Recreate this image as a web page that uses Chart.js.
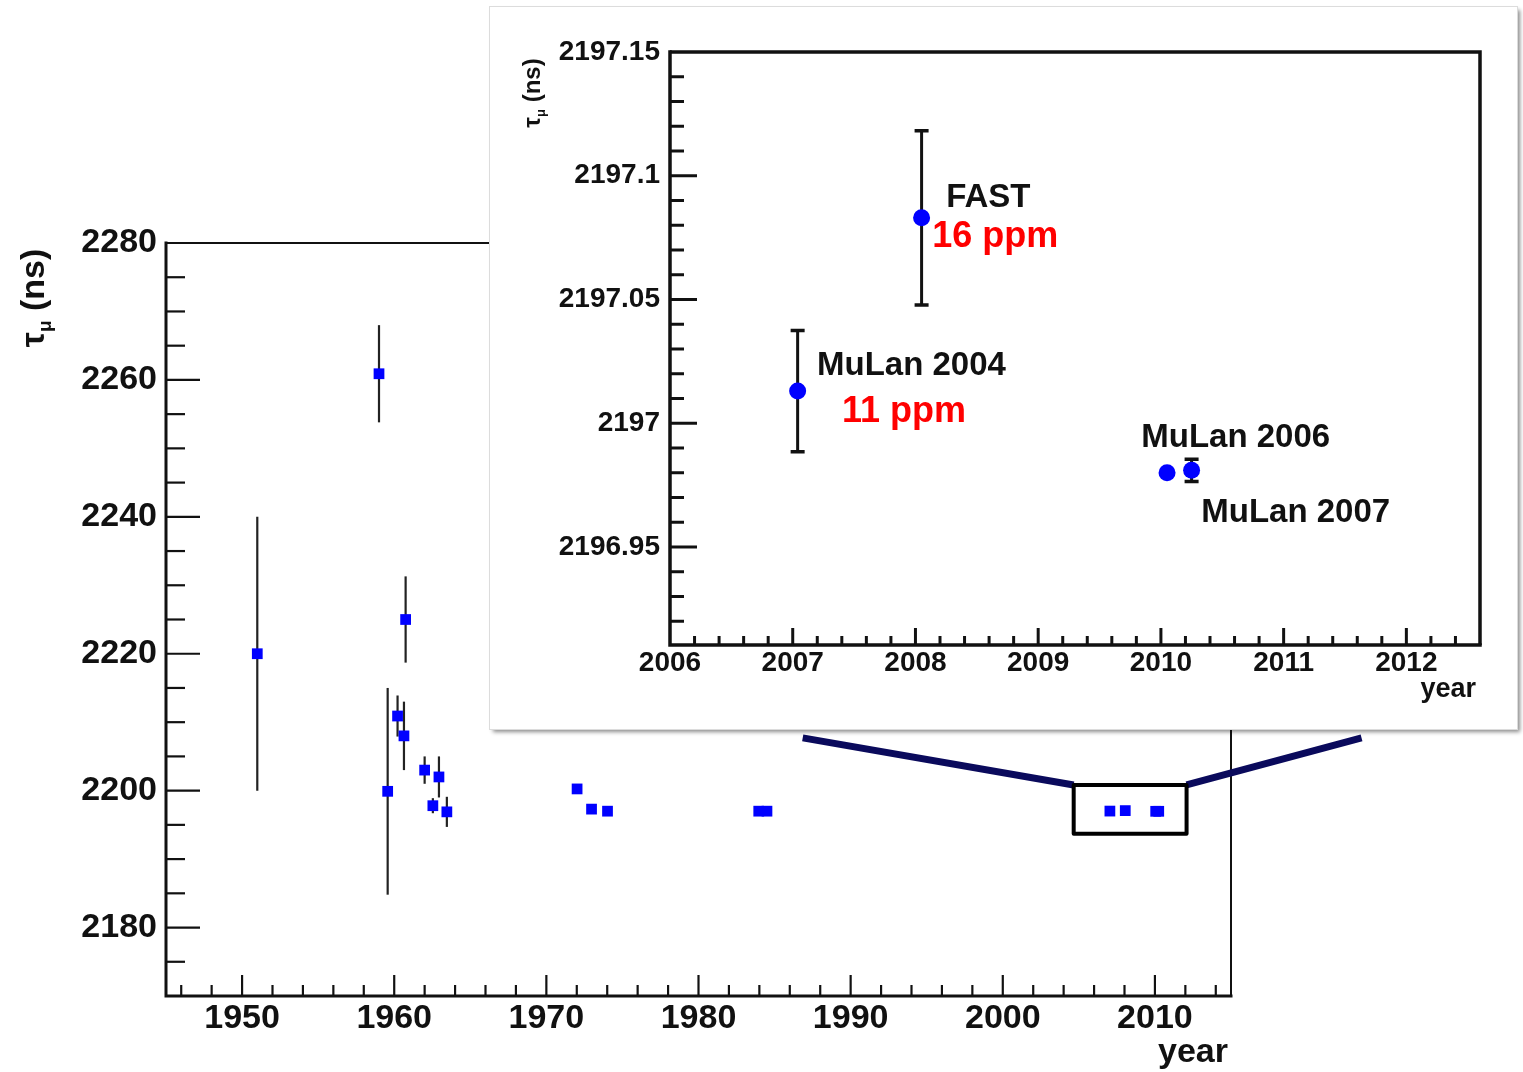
<!DOCTYPE html>
<html><head><meta charset="utf-8">
<script src="https://cdn.jsdelivr.net/npm/chart.js@4/dist/chart.umd.min.js"></script>
<style>
html,body{margin:0;padding:0;background:#fff;}
#wrap{position:relative;width:1523px;height:1072px;overflow:hidden;background:#fff;}
#main{position:absolute;left:0;top:0;}
#panel{position:absolute;left:490px;top:7px;width:1027px;height:722px;background:#fff;
  box-shadow:0 0 0 1px #dcdcdc, 3px 3px 4px rgba(0,0,0,0.45);}
#inset{position:absolute;left:0;top:0;}
</style></head>
<body>
<div id="wrap">
  <canvas id="main" width="1523" height="1072"></canvas>
  <div id="panel"><canvas id="inset" width="1027" height="722"></canvas></div>
</div>
<script>
const FONT = "'Liberation Sans', Arial, Helvetica, sans-serif";

// ---------- main chart data ----------
const mainYears = [1951.0, 1959.0, 1959.57, 1960.22, 1960.64, 1960.75, 1962.0, 1962.54, 1962.94, 1963.46,
                   1972.02, 1972.97, 1974.02, 1983.96, 1984.5, 2007.04, 2008.05, 2010.05, 2010.25];
const mainTau   = [2220.0, 2260.9, 2199.9, 2210.9, 2208.0, 2225.0, 2203.0, 2197.8, 2202.0, 2196.9,
                   2200.25, 2197.3, 2197.0, 2197.0, 2197.0, 2197.013, 2197.083, 2196.980, 2196.981];
const mainErr   = [20, 7.1, 15.1, 3, 5, 6.3, 2, 1.1, 3, 2.2,
                   0, 0, 0, 0, 0, 0.024, 0.035, 0, 0.0045];
const mainXRange = [1945, 2015];
const mainYRange = [2170, 2280];
const mainXMajor = [1950, 1960, 1970, 1980, 1990, 2000, 2010];
const mainXMinorStep = 2;
const mainYMajor = [2180, 2200, 2220, 2240, 2260, 2280];
const mainYMinorStep = 5;
const zoomBoxX = [2004.66, 2012.08];
const zoomBoxY = [2193.7, 2200.83];
const connectorEnds = [[1986.85, 2207.7], [2023.58, 2207.7]];

// ---------- inset chart data ----------
const insetYears = [2007.04, 2008.05, 2010.05, 2010.25];
const insetTau   = [2197.013, 2197.083, 2196.980, 2196.981];
const insetErr   = [0.0245, 0.0352, 0, 0.0045];
const insetXRange = [2006, 2012.6];
const insetYRange = [2196.9104, 2197.15];
const insetXMajor = [2006, 2007, 2008, 2009, 2010, 2011, 2012];
const insetXMinorStep = 0.2;
const insetYMajor = [2196.95, 2197, 2197.05, 2197.1, 2197.15];
const insetYLabels = ['2196.95', '2197', '2197.05', '2197.1', '2197.15'];
const insetYMinorStep = 0.01;
const noteTexts  = ['FAST', '16 ppm', 'MuLan 2004', '11 ppm', 'MuLan 2006', 'MuLan 2007'];
const noteX      = [2008.25, 2008.136, 2007.198, 2007.402, 2009.84, 2010.329];
const noteY      = [2197.0874, 2197.0712, 2197.0195, 2197.0006, 2196.9905, 2196.9602];
const noteColors = ['#111', '#ff0000', '#111', '#ff0000', '#111', '#111'];
const noteSizes  = [33, 36, 33, 36, 33, 33];

function stepValues(min, max, step) {
  const out = [];
  const i0 = Math.ceil(min / step - 1e-6), i1 = Math.floor(max / step + 1e-6);
  for (let i = i0; i <= i1; i++) {
    const v = +(i * step).toFixed(6);
    if (v > min + step * 0.01 && v < max - step * 0.01) out.push(v);
  }
  return out;
}

function drawRotTitle(ctx, cx, cy, size) {
  ctx.save();
  ctx.translate(cx, cy);
  ctx.rotate(-Math.PI / 2);
  ctx.fillStyle = '#111';
  ctx.textBaseline = 'alphabetic';
  ctx.textAlign = 'left';
  const f1 = 'bold ' + size + 'px ' + FONT;
  const f2 = 'bold ' + Math.round(size * 0.55) + 'px ' + FONT;
  ctx.font = f1; const wT = ctx.measureText('τ').width; const wN = ctx.measureText(' (ns)').width;
  ctx.font = f2; const wM = ctx.measureText('μ').width;
  let x = -(wT + wM + wN) / 2;
  ctx.font = f1; ctx.fillText('τ', x, 0); x += wT;
  ctx.font = f2; ctx.fillText('μ', x, size * 0.22); x += wM;
  ctx.font = f1; ctx.fillText(' (ns)', x, 0);
  ctx.restore();
}

function axesPlugin(cfg) {
  return {
    id: 'rootAxes',
    beforeDatasetsDraw(chart) {
      const {ctx, chartArea: a, scales: {x, y}} = chart;
      ctx.save();
      ctx.strokeStyle = '#111';
      ctx.lineCap = 'butt';
      ctx.lineWidth = cfg.tickWidth;
      const xMinor = stepValues(x.min, x.max, cfg.xMinorStep);
      const yMinor = stepValues(y.min, y.max, cfg.yMinorStep);
      xMinor.forEach(v => {
        const major = cfg.xMajor.some(m => Math.abs(m - v) < 1e-6);
        const px = x.getPixelForValue(v);
        ctx.beginPath(); ctx.moveTo(px, a.bottom); ctx.lineTo(px, a.bottom - (major ? cfg.xMajorLen : cfg.xMinorLen)); ctx.stroke();
      });
      yMinor.forEach(v => {
        const major = cfg.yMajor.some(m => Math.abs(m - v) < 1e-6);
        const py = y.getPixelForValue(v);
        ctx.beginPath(); ctx.moveTo(a.left, py); ctx.lineTo(a.left + (major ? cfg.yMajorLen : cfg.yMinorLen), py); ctx.stroke();
      });
      ctx.lineWidth = cfg.frameThin;
      ctx.beginPath(); ctx.moveTo(a.left, a.top); ctx.lineTo(a.right, a.top); ctx.lineTo(a.right, a.bottom); ctx.stroke();
      ctx.lineWidth = cfg.frameThick;
      ctx.lineCap = 'square';
      ctx.beginPath(); ctx.moveTo(a.left, a.top); ctx.lineTo(a.left, a.bottom); ctx.lineTo(a.right, a.bottom); ctx.stroke();
      const ds = chart.data.datasets[0];
      ctx.strokeStyle = cfg.errColor;
      ctx.lineWidth = cfg.errWidth;
      ctx.lineCap = 'butt';
      ds.data.forEach((p, i) => {
        const e = ds.errors[i];
        if (!e) return;
        const px = x.getPixelForValue(p.x);
        const y1 = y.getPixelForValue(p.y + e), y2 = y.getPixelForValue(p.y - e);
        ctx.beginPath(); ctx.moveTo(px, y1); ctx.lineTo(px, y2); ctx.stroke();
        if (cfg.capHalf) {
          ctx.lineWidth = cfg.capWidth;
          ctx.beginPath();
          ctx.moveTo(px - cfg.capHalf, y1); ctx.lineTo(px + cfg.capHalf, y1);
          ctx.moveTo(px - cfg.capHalf, y2); ctx.lineTo(px + cfg.capHalf, y2);
          ctx.stroke();
          ctx.lineWidth = cfg.errWidth;
        }
      });
      ctx.restore();
    },
    afterDatasetsDraw(chart) {
      const {ctx, chartArea: a} = chart;
      ctx.save();
      ctx.fillStyle = '#111';
      ctx.font = 'bold ' + cfg.yearSize + 'px ' + FONT;
      ctx.textAlign = 'right'; ctx.textBaseline = 'alphabetic';
      ctx.fillText('year', a.right + cfg.yearDx, a.bottom + cfg.yearDy);
      drawRotTitle(ctx, cfg.titleX, cfg.titleY, cfg.titleSize);
      if (cfg.extra) cfg.extra(chart);
      ctx.restore();
    }
  };
}

function baseOptions(o) {
  return {
    responsive: false, animation: false, events: [],
    layout: {padding: o.padding},
    plugins: {legend: {display: false}, tooltip: {enabled: false}},
    scales: {
      x: {
        type: 'linear', min: o.xRange[0], max: o.xRange[1],
        grid: {display: false, drawTicks: false}, border: {display: false},
        afterBuildTicks: s => { s.ticks = o.xMajor.map(v => ({value: v})); },
        afterFit: s => { s.height = o.xHeight; },
        ticks: {callback: v => String(v), autoSkip: false, maxRotation: 0, minRotation: 0,
                font: {family: FONT, size: o.tickSize, weight: 'bold'}, color: '#111', padding: o.xPad}
      },
      y: {
        type: 'linear', min: o.yRange[0], max: o.yRange[1],
        grid: {display: false, drawTicks: false}, border: {display: false},
        afterBuildTicks: s => { s.ticks = o.yMajor.map(v => ({value: v})); },
        afterFit: s => { s.width = o.yWidth; },
        ticks: {callback: o.yLabel, autoSkip: false,
                font: {family: FONT, size: o.tickSize, weight: 'bold'}, color: '#111', padding: o.yPad}
      }
    }
  };
}

// ---------- main chart ----------
new Chart(document.getElementById('main'), {
  type: 'scatter',
  data: {datasets: [{
    data: mainYears.map((v, i) => ({x: v, y: mainTau[i]})),
    errors: mainErr,
    pointStyle: 'rect', pointRadius: 7.6, backgroundColor: '#0000ff', borderColor: '#0000ff', borderWidth: 0
  }]},
  options: baseOptions({
    padding: {top: 243, right: 292, left: 0, bottom: 0},
    xRange: mainXRange, yRange: mainYRange, xMajor: mainXMajor, yMajor: mainYMajor,
    xHeight: 76, yWidth: 166, tickSize: 34, xPad: 2, yPad: 9,
    yLabel: v => String(v)
  }),
  plugins: [axesPlugin({
    xMinorStep: mainXMinorStep, yMinorStep: mainYMinorStep, xMajor: mainXMajor, yMajor: mainYMajor,
    xMajorLen: 21, xMinorLen: 11, yMajorLen: 34, yMinorLen: 19, tickWidth: 2.2,
    frameThin: 2, frameThick: 3, errColor: '#222', errWidth: 2.2, capHalf: 0, capWidth: 2,
    yearSize: 34, yearDx: -3, yearDy: 66, titleX: 44, titleY: 298, titleSize: 34,
    extra: chart => {
      const {ctx, scales: {x, y}} = chart;
      const bx1 = x.getPixelForValue(zoomBoxX[0]), bx2 = x.getPixelForValue(zoomBoxX[1]);
      const by1 = y.getPixelForValue(zoomBoxY[1]), by2 = y.getPixelForValue(zoomBoxY[0]);
      ctx.strokeStyle = '#0a0a5c'; ctx.lineWidth = 7; ctx.lineCap = 'butt';
      ctx.beginPath();
      ctx.moveTo(x.getPixelForValue(connectorEnds[0][0]), y.getPixelForValue(connectorEnds[0][1])); ctx.lineTo(bx1, by1);
      ctx.moveTo(bx2, by1); ctx.lineTo(x.getPixelForValue(connectorEnds[1][0]), y.getPixelForValue(connectorEnds[1][1]));
      ctx.stroke();
      ctx.strokeStyle = '#000'; ctx.lineWidth = 4; ctx.lineJoin = 'round';
      ctx.strokeRect(bx1, by1, bx2 - bx1, by2 - by1);
    }
  })]
});

// ---------- inset chart ----------
new Chart(document.getElementById('inset'), {
  type: 'scatter',
  data: {datasets: [{
    data: insetYears.map((v, i) => ({x: v, y: insetTau[i]})),
    errors: insetErr,
    pointStyle: 'circle', pointRadius: 8.5, backgroundColor: '#0000ff', borderColor: '#0000ff', borderWidth: 0
  }]},
  options: baseOptions({
    padding: {top: 45, right: 37, left: 0, bottom: 0},
    xRange: insetXRange, yRange: insetYRange, xMajor: insetXMajor, yMajor: insetYMajor,
    xHeight: 84, yWidth: 180, tickSize: 28, xPad: 1, yPad: 10,
    yLabel: (v, i) => insetYLabels[i]
  }),
  plugins: [axesPlugin({
    xMinorStep: insetXMinorStep, yMinorStep: insetYMinorStep, xMajor: insetXMajor, yMajor: insetYMajor,
    xMajorLen: 17, xMinorLen: 9, yMajorLen: 27, yMinorLen: 14, tickWidth: 3,
    frameThin: 3.5, frameThick: 3.5, errColor: '#111', errWidth: 3, capHalf: 7, capWidth: 3.5,
    yearSize: 27, yearDx: -4, yearDy: 52, titleX: 50, titleY: 86, titleSize: 24,
    extra: chart => {
      const {ctx, scales: {x, y}} = chart;
      ctx.textAlign = 'left'; ctx.textBaseline = 'alphabetic';
      noteTexts.forEach((t, i) => {
        ctx.font = 'bold ' + noteSizes[i] + 'px ' + FONT;
        ctx.fillStyle = noteColors[i];
        ctx.fillText(t, x.getPixelForValue(noteX[i]), y.getPixelForValue(noteY[i]));
      });
    }
  })]
});
</script>
</body></html>
